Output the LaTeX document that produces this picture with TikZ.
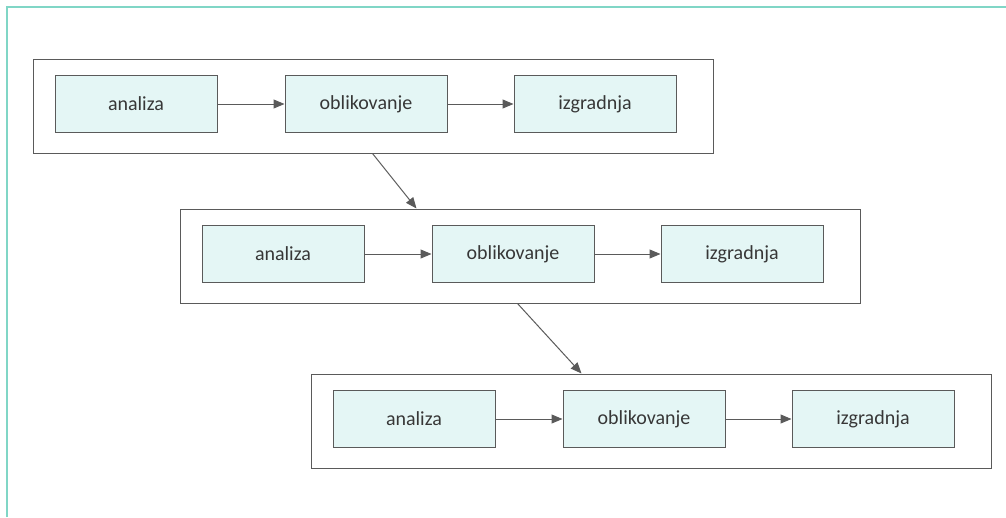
\documentclass[tikz,border=0pt]{standalone}
\usepackage{fontspec}
\setmainfont{Carlito}
\usepackage{xcolor}
\usepackage{tikz}
\usetikzlibrary{positioning,arrows.meta}
\definecolor{teal}{RGB}{128, 214, 198}
\definecolor{gray}{RGB}{90, 90, 90}
\definecolor{cyan}{RGB}{228, 246, 245}
\definecolor{ink}{RGB}{55, 55, 55}

\begin{document}
\begin{tikzpicture}[x=1pt, y=-1pt,
    stage/.style={draw=gray, fill=cyan, line width=1pt, minimum width=162pt,
      minimum height=57pt, inner sep=0pt, text=ink, font=\fontsize{20}{23}\selectfont},
    group/.style={draw=gray, line width=1pt, minimum width=680pt,
      minimum height=94pt, inner sep=0pt},
    flow/.style={draw=gray, line width=1pt, -{Triangle[length=11pt, width=9pt]}}]
    % page size
    \useasboundingbox (0,0) rectangle (1006,517);

    % Frame: teal edge on left and top
    \draw[teal, line width=2pt] (7,517) -- (7,7) -- (1006,7);

    \foreach \gx/\gy [count=\n] in {373/106, 520/256, 651/421} {
        % group frame
        \node[group] (g\n) at (\gx,\gy) {};
        % stages in the row
        \node[stage] (a\n) at (\gx-237,\gy-2) {analiza};
        \node[stage, right=67pt of a\n] (o\n) {oblikovanje};
        \node[stage, right=66pt of o\n] (i\n) {izgradnja};
        \draw[flow] (a\n) -- (o\n);
        \draw[flow] (o\n) -- (i\n);
      }

    % arrows between groups
    \draw[flow] ([xshift=340pt]g1.south west) -- ([xshift=237pt]g2.north west);
    \draw[flow] ([xshift=338pt]g2.south west) -- ([xshift=271pt]g3.north west);
  \end{tikzpicture}
\end{document}
